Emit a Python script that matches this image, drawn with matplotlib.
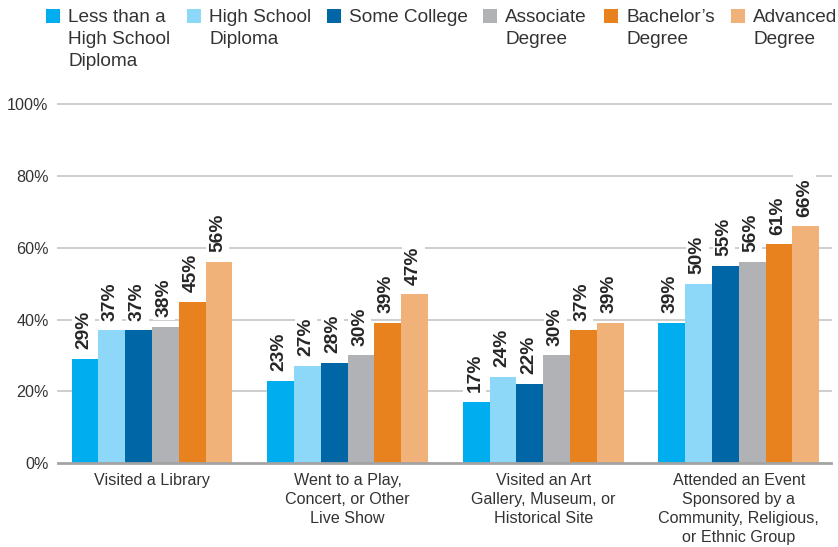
import matplotlib

matplotlib.use("Agg")

import matplotlib.pyplot as plt
import numpy as np
from matplotlib.patches import Rectangle

plt.rcParams["font.family"] = ["Liberation Sans", "DejaVu Sans"]

# activities on the x axis
categories = [
    "Visited a Library",
    "Went to a Play,\nConcert, or Other\nLive Show",
    "Visited an Art\nGallery, Museum, or\nHistorical Site",
    "Attended an Event\nSponsored by a\nCommunity, Religious,\nor Ethnic Group",
]

# education levels (legend)
education = [
    "Less than a\nHigh School\nDiploma",
    "High School\nDiploma",
    "Some College",
    "Associate\nDegree",
    "Bachelor\u2019s\nDegree",
    "Advanced\nDegree",
]

# percent of adults, one list per education level
less_than_hs = [29, 23, 17, 39]
hs_diploma = [37, 27, 24, 50]
some_college = [37, 28, 22, 55]
associate = [38, 30, 30, 56]
bachelors = [45, 39, 37, 61]
advanced = [56, 47, 39, 66]

y_ticks = [0, 20, 40, 60, 80, 100]
y_tick_labels = ["0%", "20%", "40%", "60%", "80%", "100%"]

series = [less_than_hs, hs_diploma, some_college, associate, bachelors, advanced]
colors = ["#00aeef", "#8dd8f8", "#0066a6", "#b1b2b6", "#e8821e", "#f1b27a"]
TEXT = "#333333"

W, H = 838, 547
fig = plt.figure(figsize=(W / 100, H / 100), dpi=100)
ax = fig.add_axes([58.3 / W, 1 - 463 / H, (831 - 58.3) / W, (463 - 104.4) / H])

x = np.arange(len(categories))
bar_w = 0.137
n = len(series)
for i, (vals, color) in enumerate(zip(series, colors)):
    pos = x + (i - (n - 1) / 2) * bar_w
    bars = ax.bar(pos, vals, width=bar_w, color=color, linewidth=0, zorder=2)
    for bar, v in zip(bars, vals):
        ax.annotate(
            f"{v}%",
            (bar.get_x() + bar.get_width() / 2, v),
            xytext=(-1, 7),
            textcoords="offset points",
            rotation=90,
            ha="center",
            va="bottom",
            fontsize=13.8,
            fontweight="bold",
            color="#262626",
            zorder=4,
            bbox=dict(boxstyle="square,pad=0.15", fc="white", ec="none"),
        )

for t in y_ticks[1:]:
    ax.axhline(t, color="#cacaca", lw=1.3, zorder=1, clip_on=False)
ax.axhline(0, color="#a3a3a3", lw=2, zorder=3, clip_on=False)

ax.set_xlim(-0.479, 3.471)
ax.set_ylim(0, 100)
ax.set_yticks(y_ticks)
ax.set_yticklabels(y_tick_labels)
ax.set_xticks(x)
ax.set_xticklabels(categories, linespacing=1.34)
ax.tick_params(axis="x", length=0, pad=7, labelsize=11.6, colors=TEXT)
ax.tick_params(axis="y", length=0, pad=7, labelsize=11.6, colors=TEXT)
for s in ax.spines.values():
    s.set_visible(False)

# legend laid out by hand across the top
square_x = [46, 187, 327, 483, 604, 731]
for label, color, sx in zip(education, colors, square_x):
    fig.patches.append(
        Rectangle((sx / W, 1 - 23 / H), 14 / W, 14 / H, transform=fig.transFigure,
                  facecolor=color, edgecolor="none")
    )
    fig.text((sx + 22) / W, 1 - 9.5 / H, label, ha="left", va="top",
             fontsize=13.7, color=TEXT, linespacing=1.38)

fig.savefig("out.png", dpi=100)
